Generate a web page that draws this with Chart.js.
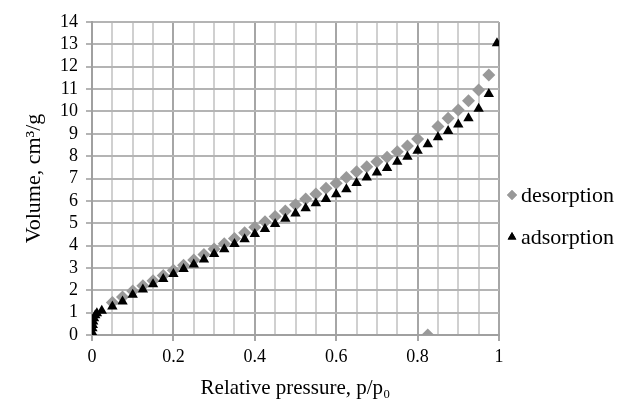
<!DOCTYPE html>
<html>
<head>
<meta charset="utf-8">
<script src="https://cdn.jsdelivr.net/npm/chart.js@4.4.1/dist/chart.umd.min.js"></script>
<style>
  html, body { margin: 0; padding: 0; background: #fff; }
  #wrap { width: 618px; height: 404px; }
</style>
</head>
<body>
<div id="wrap"><canvas id="iso"></canvas></div>
<script>
var desorptionP = [0.05,0.075,0.1,0.125,0.15,0.175,0.2,0.225,0.25,0.275,0.3,0.325,0.35,0.375,0.4,0.425,0.45,0.475,0.5,0.525,0.55,0.575,0.6,0.625,0.65,0.675,0.7,0.725,0.75,0.775,0.8,0.825,0.85,0.875,0.9,0.925,0.95,0.975];
var desorptionV = [1.45,1.7,1.97,2.2,2.43,2.66,2.9,3.12,3.36,3.6,3.85,4.08,4.32,4.57,4.82,5.06,5.3,5.55,5.83,6.08,6.31,6.56,6.79,7.05,7.3,7.53,7.75,7.95,8.2,8.45,8.77,0,9.33,9.69,10.06,10.48,10.96,11.63];

var adsorptionP = [0.001,0.001,0.002,0.003,0.005,0.008,0.012,0.024,0.05,0.075,0.1,0.125,0.15,0.175,0.2,0.225,0.25,0.275,0.3,0.325,0.35,0.375,0.4,0.425,0.45,0.475,0.5,0.525,0.55,0.575,0.6,0.625,0.65,0.675,0.7,0.725,0.75,0.775,0.8,0.825,0.85,0.875,0.9,0.925,0.95,0.975,0.995];
var adsorptionV = [0.1,0.3,0.45,0.6,0.75,0.88,0.97,1.08,1.27,1.5,1.8,2.03,2.27,2.5,2.73,2.95,3.15,3.38,3.62,3.84,4.07,4.28,4.52,4.74,4.97,5.2,5.44,5.67,5.89,6.08,6.3,6.52,6.8,7.04,7.27,7.47,7.75,7.97,8.24,8.53,8.84,9.12,9.41,9.69,10.12,10.78,13.05];

var seriesNames = ["desorption", "adsorption"];
var xTickLabels = ["0", "0.2", "0.4", "0.6", "0.8", "1"];
var xTitle = "Relative pressure, p/p\u2080";
var yTitle = "Volume, cm\u00B3/g";

function pts(xs, ys) {
  var out = [];
  for (var i = 0; i < xs.length; i++) out.push({x: xs[i], y: ys[i]});
  return out;
}

var serif = "'Liberation Serif', 'Times New Roman', serif";

// legend drawn by hand at the right
var sideLegend = {
  id: 'sideLegend',
  afterDraw: function(chart) {
    var ctx = chart.ctx;
    var rows = [{y: 195, ds: chart.data.datasets[0]}, {y: 237, ds: chart.data.datasets[1]}];
    ctx.save();
    ctx.font = "22px " + serif;
    ctx.textBaseline = 'middle';
    rows.forEach(function(r) {
      ctx.fillStyle = r.ds.backgroundColor;
      ctx.beginPath();
      Chart.helpers.drawPoint(ctx, {pointStyle: r.ds.pointStyle, radius: 5, borderWidth: 0}, 512, r.y);
      ctx.fill();
      ctx.fillStyle = '#000';
      ctx.fillText(r.ds.label, 521, r.y + 1);
    });
    ctx.restore();
  }
};

new Chart(document.getElementById("iso"), {
  type: 'scatter',
  data: {
    datasets: [{
      label: seriesNames[0],
      data: pts(desorptionP, desorptionV),
      pointStyle: 'rectRot',
      pointRadius: 6.5,
      backgroundColor: '#999999',
      borderColor: '#999999',
      borderWidth: 0,
      order: 2
    }, {
      label: seriesNames[1],
      data: pts(adsorptionP, adsorptionV),
      pointStyle: 'triangle',
      pointRadius: 6,
      backgroundColor: '#000000',
      borderColor: '#000000',
      borderWidth: 0,
      order: 1
    }]
  },
  options: {
    responsive: true,
    maintainAspectRatio: false,
    animation: false,
    layout: { padding: { top: 22, right: 119, bottom: 0, left: 0 } },
    plugins: {
      legend: { display: false },
      tooltip: { enabled: false }
    },
    scales: {
      x: {
        type: 'linear',
        min: 0, max: 1,
        afterFit: function(s) { s.height = 69; },
        afterBuildTicks: function(s) {
          var t = [];
          for (var i = 0; i <= 20; i++) t.push({value: i / 20});
          s.ticks = t;
        },
        border: { color: '#a0a0a0', width: 2 },
        grid: {
          lineWidth: 2,
          tickLength: 6,
          color: function(c) { return c.index % 4 === 0 ? '#a6a6a6' : '#d0d0d0'; },
          tickColor: function(c) { return c.index % 4 === 0 ? '#a6a6a6' : 'rgba(0,0,0,0)'; }
        },
        ticks: {
          autoSkip: false,
          maxRotation: 0,
          padding: 5,
          color: '#000',
          font: { family: serif, size: 18 },
          callback: function(v, i) { return i % 4 === 0 ? xTickLabels[i / 4] : ''; }
        },
        title: {
          display: true,
          text: xTitle,
          color: '#000',
          font: { family: serif, size: 21 },
          padding: { top: 0, bottom: 3 }
        }
      },
      y: {
        min: 0, max: 14,
        afterFit: function(s) { s.width = 92; },
        border: { color: '#a0a0a0', width: 2 },
        grid: {
          lineWidth: 2,
          tickLength: 6,
          color: '#b4b4b4',
          tickColor: '#b4b4b4'
        },
        ticks: {
          stepSize: 1,
          autoSkip: false,
          padding: 8,
          color: '#000',
          font: { family: serif, size: 18 }
        },
        title: {
          display: true,
          text: yTitle,
          color: '#000',
          font: { family: serif, size: 22 },
          padding: { top: 21, bottom: 0 }
        }
      }
    }
  },
  plugins: [sideLegend]
});
</script>
</body>
</html>
